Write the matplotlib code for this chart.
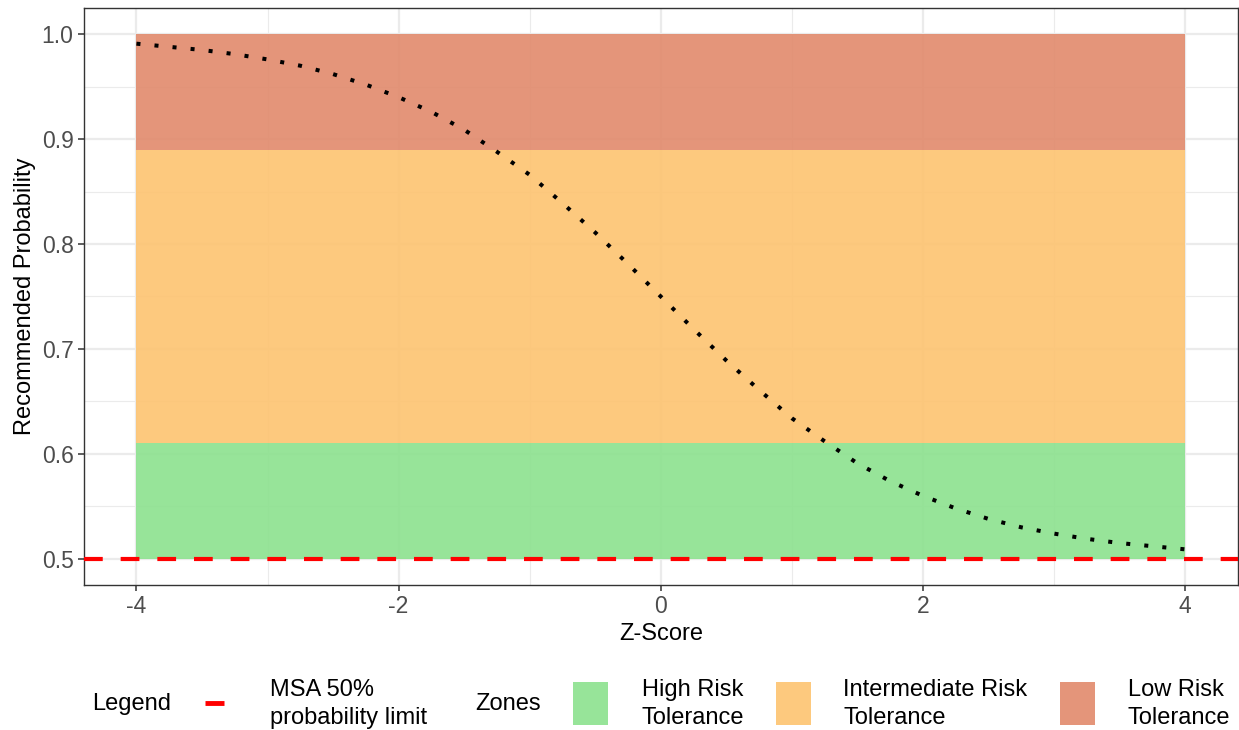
import matplotlib
matplotlib.use("Agg")
import matplotlib.pyplot as plt
from matplotlib.lines import Line2D
from matplotlib.patches import Rectangle

plt.rcParams['font.family'] = ['Liberation Sans', 'DejaVu Sans']

# ---- data ----
z_score = [-4.0, -3.75, -3.5, -3.25, -3.0, -2.75, -2.5, -2.25, -2.0, -1.75, -1.5,
           -1.25, -1.0, -0.75, -0.5, -0.25, 0.0, 0.25, 0.5, 0.75, 1.0, 1.25, 1.5,
           1.75, 2.0, 2.25, 2.5, 2.75, 3.0, 3.25, 3.5, 3.75, 4.0]
rec_prob = [0.991, 0.988, 0.985, 0.981, 0.976, 0.970, 0.962, 0.952, 0.940, 0.926, 0.909,
            0.888, 0.866, 0.839, 0.811, 0.781, 0.750, 0.719, 0.689, 0.661, 0.634, 0.612, 0.591,
            0.574, 0.560, 0.548, 0.538, 0.530, 0.524, 0.519, 0.515, 0.512, 0.509]

zone_names = ["High Risk\nTolerance", "Intermediate Risk\nTolerance", "Low Risk\nTolerance"]
zone_low = [0.50, 0.61, 0.89]
zone_high = [0.61, 0.89, 1.00]
zone_xmin = -4
zone_xmax = 4
zone_colors = ["#8CE18E", "#FDC370", "#E18A6C"]

msa_limit = 0.5
msa_label = "MSA 50%\nprobability limit"

x_ticks = [-4, -2, 0, 2, 4]
x_minor = [-3, -1, 1, 3]
y_ticks = [0.5, 0.6, 0.7, 0.8, 0.9, 1.0]
y_minor = [0.55, 0.65, 0.75, 0.85, 0.95]

# ---- figure ----
W, H = 1239, 730
fig = plt.figure(figsize=(W / 100, H / 100), dpi=100)
ax = fig.add_axes([84 / W, 1 - 585 / H, (1237.5 - 84) / W, (585 - 8) / H])

ax.set_xlim(-4.4, 4.4)
ax.set_ylim(0.475, 1.025)

ax.set_xticks(x_ticks)
ax.set_xticks(x_minor, minor=True)
ax.set_yticks(y_ticks)
ax.set_yticks(y_minor, minor=True)
ax.set_xticklabels([f"{t:g}" for t in x_ticks])
ax.set_yticklabels([f"{t:.1f}" for t in y_ticks])
ax.grid(True, which='major', color='#EBEBEB', linewidth=1.6)
ax.grid(True, which='minor', color='#EBEBEB', linewidth=0.8)
ax.set_axisbelow(True)
ax.tick_params(which='major', length=4, width=1.1, color='#333333',
               labelsize=16.5, labelcolor='#4D4D4D', pad=3.5)
ax.tick_params(which='minor', length=0)
for s in ax.spines.values():
    s.set_color('#333333')
    s.set_linewidth(1.0)

for lo, hi, c in zip(zone_low, zone_high, zone_colors):
    ax.fill_between([zone_xmin, zone_xmax], lo, hi, color=c, alpha=0.9,
                    linewidth=0, zorder=1)

ax.axhline(msa_limit, color='#FF0000', linewidth=3, linestyle=(0, (4.5, 4.3)),
           dash_capstyle='butt', zorder=3, clip_on=False)

ax.plot(z_score, rec_prob, color='black', linewidth=2.9,
        linestyle=(0, (1, 3.5)), dash_capstyle='butt', zorder=4)

ax.set_xlabel("Z-Score", fontsize=17, labelpad=3)
ax.set_ylabel("Recommended Probability", fontsize=17, labelpad=4)

# ---- legend (bottom) ----
def fx(px):
    return px / W

def fy(py):
    return 1 - py / H

ly = 704
fs = 17
ls = 1.33
fig.text(fx(92), fy(ly), "Legend", fontsize=fs, va='center', ha='left')
fig.add_artist(Line2D([fx(205), fx(224)], [fy(703), fy(703)], color='#FF0000',
                      linewidth=3.5, solid_capstyle='butt'))
fig.text(fx(270), fy(ly), msa_label, fontsize=fs, va='center', ha='left',
         linespacing=ls)
fig.text(fx(475), fy(ly), "Zones", fontsize=fs, va='center', ha='left')

box_x = [573, 776, 1060]
text_x = [642, 843, 1128]
for bx, tx, name, c in zip(box_x, text_x, zone_names, zone_colors):
    fig.add_artist(Rectangle((fx(bx), fy(725)), 35 / W, 43 / H,
                             facecolor=c, alpha=0.9, edgecolor='none',
                             transform=fig.transFigure))
    fig.text(fx(tx), fy(ly), name, fontsize=fs, va='center', ha='left',
             linespacing=ls)

fig.savefig("out.png", dpi=100, facecolor='white')
